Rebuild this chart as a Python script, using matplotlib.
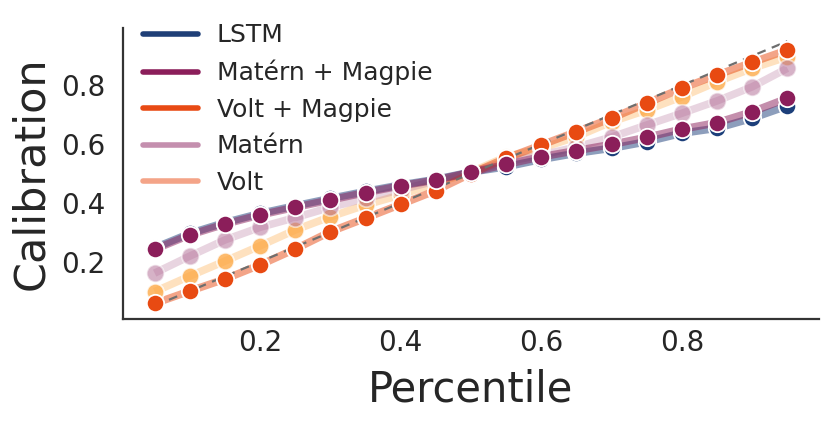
import matplotlib
matplotlib.use("Agg")
import matplotlib.pyplot as plt
from matplotlib.lines import Line2D
import numpy as np

percentile = [0.05, 0.10, 0.15, 0.20, 0.25, 0.30, 0.35, 0.40, 0.45, 0.50,
              0.55, 0.60, 0.65, 0.70, 0.75, 0.80, 0.85, 0.90, 0.95]

lstm = [0.247, 0.296, 0.333, 0.364, 0.390, 0.415, 0.439, 0.461, 0.480, 0.505,
        0.523, 0.548, 0.569, 0.586, 0.608, 0.637, 0.654, 0.688, 0.730]
matern_magpie = [0.242, 0.291, 0.328, 0.359, 0.385, 0.410, 0.435, 0.458, 0.478, 0.504,
                 0.531, 0.557, 0.578, 0.599, 0.623, 0.651, 0.673, 0.710, 0.756]
volt_magpie = [0.058, 0.100, 0.141, 0.189, 0.243, 0.302, 0.348, 0.395, 0.442, 0.500,
               0.552, 0.597, 0.642, 0.688, 0.739, 0.790, 0.835, 0.878, 0.920]
matern = [0.161, 0.219, 0.274, 0.317, 0.350, 0.385, 0.415, 0.445, 0.475, 0.505,
          0.540, 0.563, 0.590, 0.624, 0.665, 0.705, 0.747, 0.795, 0.858]
volt = [0.098, 0.151, 0.202, 0.254, 0.308, 0.353, 0.393, 0.427, 0.467, 0.505,
        0.557, 0.586, 0.625, 0.676, 0.716, 0.761, 0.812, 0.858, 0.897]

labels = ["LSTM", "Matérn + Magpie", "Volt + Magpie", "Matérn", "Volt"]

text_color = "#262626"
plt.rcParams["font.family"] = ["DejaVu Sans"]
plt.rcParams["text.color"] = text_color
plt.rcParams["axes.labelcolor"] = text_color
plt.rcParams["xtick.color"] = text_color
plt.rcParams["ytick.color"] = text_color

fig = plt.figure(figsize=(8.31, 4.25), dpi=100)
ax = fig.add_axes([123 / 831, 1 - 319 / 425, (819 - 123) / 831, (319 - 28) / 425])

x = np.array(percentile)

# (values, marker colour, marker alpha, line colour, line alpha, marker zorder)
series = [
    (volt, "#fdaa48", 0.8, "#fdaa48", 0.35, 3),
    (matern, "#b5739a", 0.55, "#b5739a", 0.3, 3.2),
    (lstm, "#1c3f7a", 1.0, "#1c3f7a", 0.5, 4),
    (volt_magpie, "#e84a12", 1.0, "#e84a12", 0.5, 4.5),
    (matern_magpie, "#8b1e5a", 1.0, "#8b1e5a", 0.5, 5),
]

for vals, mc, ma, lc, la, z in series:
    ax.plot(x, vals, color=lc, alpha=la, lw=5.5, solid_capstyle="butt", zorder=2)

ax.plot([x[0], x[-1]], [x[0], x[-1]], ls=(0, (4, 3)), color="#6e6e6e", lw=1.6, zorder=2.5)

for vals, mc, ma, lc, la, z in series:
    ax.plot(x, vals, ls="none", marker="o", ms=12.5, mfc=mc, mec="white",
            mew=1.3, alpha=ma, zorder=z)

ax.set_xlim(0.005, 0.995)
ax.set_ylim(0.005, 0.995)
ax.set_xticks([0.2, 0.4, 0.6, 0.8])
ax.set_yticks([0.2, 0.4, 0.6, 0.8])
ax.tick_params(axis="both", length=0, labelsize=20)
ax.tick_params(axis="x", pad=7.5)
ax.tick_params(axis="y", pad=13)

for s in ["top", "right"]:
    ax.spines[s].set_visible(False)
for s in ["left", "bottom"]:
    ax.spines[s].set_color("#333333")
    ax.spines[s].set_linewidth(1.6)

ax.set_xlabel("Percentile", fontsize=30, labelpad=8)
ax.set_ylabel("Calibration", fontsize=31, labelpad=6)

legend_colors = ["#1f3f77", "#8b1e5a", "#e84a14", "#c48fae", "#f4a488"]
handles = [Line2D([0], [0], color=c, lw=4, solid_capstyle="round") for c in legend_colors]
ax.legend(handles, labels, loc="upper left", bbox_to_anchor=(0.014, 1.05),
          borderaxespad=0, frameon=False, fontsize=18, labelspacing=0.5,
          handlelength=2.2, handletextpad=0.76)

fig.savefig("out.png", dpi=100)
